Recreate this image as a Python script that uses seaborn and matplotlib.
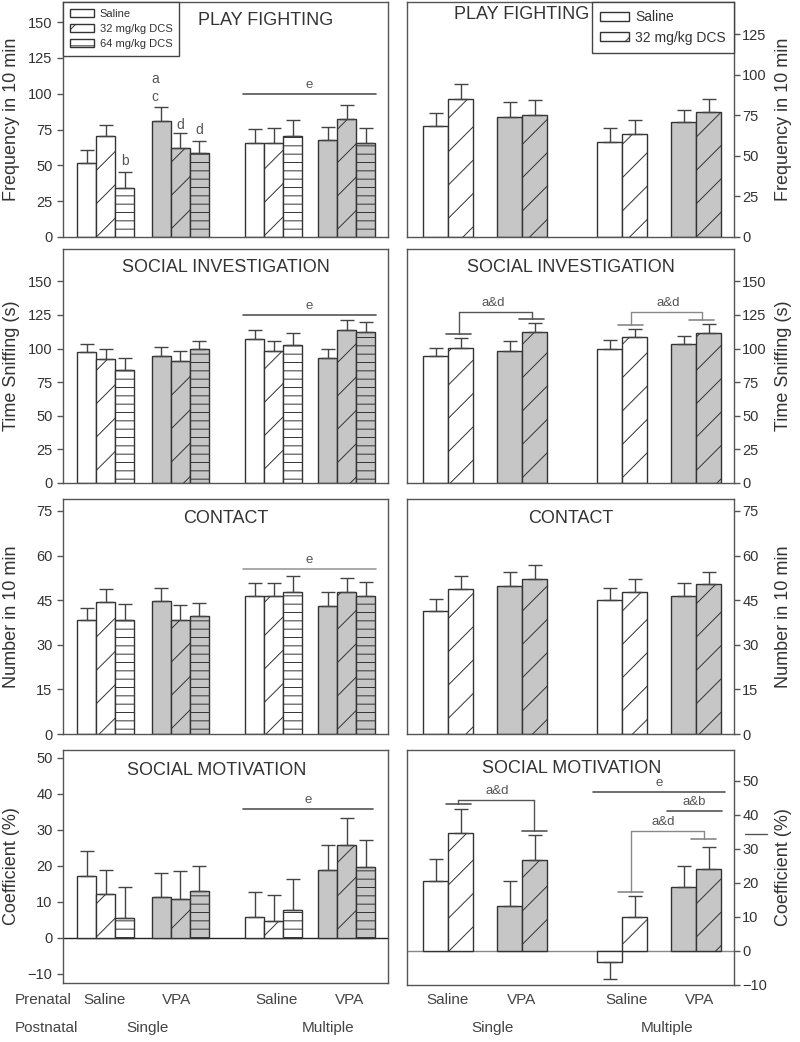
import numpy as np
import pandas as pd
import matplotlib
matplotlib.use("Agg")
import matplotlib.pyplot as plt
from matplotlib.patches import Patch
import seaborn as sns

# ---- data: mean and SEM ----
# left column: 3 doses per group, right column: 2 doses per group
# group order: Saline/Single, VPA/Single, Saline/Multiple, VPA/Multiple
left_doses = ["Saline", "32 mg/kg DCS", "64 mg/kg DCS"]
right_doses = ["Saline", "32 mg/kg DCS"]
prenatal = ["Saline", "VPA", "Saline", "VPA"]
postnatal = ["Single", "Multiple"]

play_left = [51.5, 70.3, 34.4, 81.1, 62.0, 58.5, 65.6, 65.6, 70.8, 67.5, 82.3, 65.8]
play_left_err = [9.1, 8.2, 11.3, 9.5, 10.6, 8.5, 9.6, 10.6, 11.2, 9.4, 9.9, 10.4]
play_right = [68.3, 85.4, 74.1, 75.1, 58.5, 63.4, 70.8, 77.2]
play_right_err = [8.3, 9.2, 9.4, 9.3, 8.8, 8.6, 7.4, 8.2]

sniff_left = [97.3, 92.3, 83.9, 94.6, 90.8, 99.3, 107.2, 98.5, 102.7, 92.6, 114.1, 112.6]
sniff_left_err = [6.4, 7.5, 8.9, 6.9, 7.7, 6.4, 6.2, 7.4, 8.7, 7.2, 7.2, 7.0]
sniff_right = [94.2, 100.7, 98.4, 112.3, 99.9, 108.3, 103.4, 111.8]
sniff_right_err = [6.2, 6.9, 7.2, 6.9, 6.4, 6.4, 5.9, 6.1]

contact_left = [38.2, 44.3, 38.2, 44.6, 38.4, 39.7, 46.5, 46.3, 47.7, 43.1, 47.7, 46.5]
contact_left_err = [4.1, 4.4, 5.5, 4.4, 4.9, 4.2, 4.2, 4.4, 5.3, 4.8, 4.7, 4.7]
contact_right = [41.4, 48.6, 49.6, 52.0, 44.9, 47.7, 46.4, 50.3]
contact_right_err = [4.1, 4.6, 4.7, 4.8, 4.3, 4.4, 4.2, 4.0]

motiv_left = [17.3, 12.3, 5.6, 11.3, 10.8, 13.1, 5.8, 4.6, 7.9, 18.8, 25.8, 19.7]
motiv_left_err = [6.9, 6.7, 8.6, 6.8, 7.7, 6.9, 6.9, 7.3, 8.4, 7.0, 7.6, 7.6]
motiv_right = [20.4, 34.7, 13.2, 26.7, -3.2, 9.9, 18.8, 24.1]
motiv_right_err = [6.6, 7.1, 7.2, 7.2, 4.9, 6.3, 6.2, 6.4]

# ---- layout ----
W, H = 800, 1042
EDGE = "#333333"
GREY = "#c6c6c6"
TXT = "#333333"
LEFT_STARTS = [0.74, 4.68, 9.58, 13.42]     # bar units (1 bar = 1 unit)
RIGHT_STARTS = [0.64, 3.60, 7.60, 10.56]
LEFT_XLIM = (0, 17.1)
RIGHT_XLIM = (0, 13.08)

sns.set_style("ticks")
plt.rcParams["font.family"] = ["Liberation Sans", "DejaVu Sans"]
plt.rcParams["hatch.linewidth"] = 0.7
plt.rcParams["text.color"] = TXT


def box(x0, x1, top, bottom):
    return [x0 / W, 1 - bottom / H, (x1 - x0) / W, (bottom - top) / H]


def bar_positions(starts, n):
    return [s + i + 0.5 for s in starts for i in range(n)]


def draw_panel(ax, vals, errs, starts, n, side):
    pos = bar_positions(starts, n)
    df = pd.DataFrame({"pos": pos, "val": vals})
    sns.barplot(data=df, x="pos", y="val", native_scale=True, width=1,
                color="white", saturation=1, errorbar=None, orient="x",
                linewidth=1, edgecolor=EDGE, ax=ax)
    hatches = ["", "/", "--"]
    pos_arr = np.array(pos)
    for p in ax.patches:
        cx = p.get_x() + p.get_width() / 2
        k = int(np.argmin(np.abs(pos_arr - cx)))
        grp, dose = k // n, k % n
        p.set_facecolor(GREY if grp in (1, 3) else "white")
        p.set_hatch(hatches[dose])
        p.set_edgecolor(EDGE)
        p.set_linewidth(1)
    vals = np.array(vals)
    errs = np.array(errs)
    upper = np.where(vals >= 0, errs, 0)
    lower = np.where(vals < 0, errs, 0)
    ax.errorbar(pos, vals, yerr=[lower, upper], fmt="none", ecolor="#444444",
                elinewidth=1, capsize=5, capthick=1, zorder=3)
    ax.set_xticks([])
    ax.set_xlabel("")
    for s in ax.spines.values():
        s.set_visible(True)
        s.set_color("#555555")
        s.set_linewidth(1)
    ax.tick_params(axis="y", colors="#555555", labelcolor=TXT, labelsize=10.5,
                   length=4, width=1, direction="out")
    if side == "right":
        ax.yaxis.tick_right()
        ax.yaxis.set_label_position("right")
        ax.tick_params(axis="y", pad=2)
        ax.yaxis.set_label_coords(1.125, 0.5)
    else:
        ax.yaxis.set_label_coords(-0.132, 0.5)
    return pos


def title(ax, text, x, y):
    ax.text(x, y, text, transform=ax.transAxes, ha="center", va="center",
            fontsize=13, color=TXT)


def e_line(ax, y, x0, x1, label="e", color="#555555"):
    ax.plot([x0, x1], [y, y], color=color, lw=1.2, clip_on=False)
    ax.text((x0 + x1) / 2, y + (ax.get_ylim()[1] - ax.get_ylim()[0]) * 0.012, label,
            ha="center", va="bottom", fontsize=9.5, color="#555555")


def bracket(ax, x1, y1, x2, y2, ytop, label, lx, color="#555555"):
    for x, y in ((x1, y1), (x2, y2)):
        ax.plot([x - 0.5, x + 0.5], [y, y], color=color, lw=1.2)
        ax.plot([x, x], [y, ytop], color=color, lw=1)
    ax.plot([x1, x2], [ytop, ytop], color=color, lw=1)
    ax.text(lx, ytop + (ax.get_ylim()[1] - ax.get_ylim()[0]) * 0.012, label,
            ha="center", va="bottom", fontsize=9.5, color="#555555")


fig = plt.figure(figsize=(W / 100, H / 100), dpi=100)

rows_left = [(2, 237), (249, 483), (499, 734), (750, 983)]
rows_right = [(2, 237), (249, 483), (499, 734), (750, 985)]
ylabels = ["Frequency in 10 min", "Time Sniffing (s)", "Number in 10 min",
           "Coefficient (%)"]

# ---------- row 1: play fighting ----------
axL = fig.add_axes(box(63, 388, *rows_left[0]))
posL = draw_panel(axL, play_left, play_left_err, LEFT_STARTS, 3, "left")
axL.set_xlim(*LEFT_XLIM)
axL.set_ylim(0, 164)
axL.set_yticks(range(0, 151, 25))
axL.set_ylabel(ylabels[0], fontsize=13, color=TXT)
title(axL, "PLAY FIGHTING", 0.625, 0.923)
e_line(axL, 100, 9.47, 16.47)
topL = np.array(play_left) + np.array(play_left_err)
axL.text(posL[3] - 0.35, topL[3] + 19.5, "a", ha="center", va="center", fontsize=10, color="#555555")
axL.text(posL[3] - 0.35, topL[3] + 7, "c", ha="center", va="center", fontsize=10, color="#555555")
axL.text(posL[4], topL[4] + 5.5, "d", ha="center", va="center", fontsize=10, color="#555555")
axL.text(posL[5], topL[5] + 7.5, "d", ha="center", va="center", fontsize=10, color="#555555")
axL.text(posL[2], topL[2] + 7, "b", ha="center", va="center", fontsize=10, color="#555555")
axL.legend(handles=[Patch(facecolor="white", edgecolor=EDGE, hatch=h, label=l)
                    for h, l in zip(["", "/", "--"], left_doses)],
           loc="upper left", bbox_to_anchor=(0, 1), borderaxespad=0,
           fancybox=False, edgecolor="#444444", framealpha=1, fontsize=8,
           handlelength=2.2, handleheight=0.8, labelspacing=0.45,
           borderpad=0.6, handletextpad=0.5)

axR = fig.add_axes(box(407, 734, *rows_right[0]))
posR = draw_panel(axR, play_right, play_right_err, RIGHT_STARTS, 2, "right")
axR.set_xlim(*RIGHT_XLIM)
axR.set_ylim(0, 145)
axR.set_yticks(range(0, 126, 25))
axR.set_ylabel(ylabels[0], fontsize=13, color=TXT)
title(axR, "PLAY FIGHTING", 0.352, 0.945)
axR.legend(handles=[Patch(facecolor="white", edgecolor=EDGE, hatch=h, label=l)
                    for h, l in zip(["", "/"], right_doses)],
           loc="upper right", bbox_to_anchor=(1, 1), borderaxespad=0,
           fancybox=False, edgecolor="#444444", framealpha=1, fontsize=10,
           handlelength=2.1, handleheight=0.6, labelspacing=0.45,
           borderpad=0.6, handletextpad=0.4)

# ---------- row 2: social investigation ----------
axL = fig.add_axes(box(63, 388, *rows_left[1]))
draw_panel(axL, sniff_left, sniff_left_err, LEFT_STARTS, 3, "left")
axL.set_xlim(*LEFT_XLIM)
axL.set_ylim(0, 174)
axL.set_yticks(range(0, 151, 25))
axL.set_ylabel(ylabels[1], fontsize=13, color=TXT)
title(axL, "SOCIAL INVESTIGATION", 0.5, 0.919)
e_line(axL, 125, 9.47, 16.47)

axR = fig.add_axes(box(407, 734, *rows_right[1]))
posR = draw_panel(axR, sniff_right, sniff_right_err, RIGHT_STARTS, 2, "right")
axR.set_xlim(*RIGHT_XLIM)
axR.set_ylim(0, 174)
axR.set_yticks(range(0, 151, 25))
axR.set_ylabel(ylabels[1], fontsize=13, color=TXT)
title(axR, "SOCIAL INVESTIGATION", 0.5, 0.919)
topR = np.array(sniff_right) + np.array(sniff_right_err)
bracket(axR, posR[1] - 0.07, topR[1] + 3, posR[3] - 0.11, topR[3] + 3, 127, "a&d", 3.44)
bracket(axR, posR[5] - 0.15, topR[5] + 2.5, posR[7] - 0.27, topR[7] + 3.5, 127, "a&d", 10.44,
        color="#888888")

# ---------- row 3: contact ----------
axL = fig.add_axes(box(63, 388, *rows_left[2]))
draw_panel(axL, contact_left, contact_left_err, LEFT_STARTS, 3, "left")
axL.set_xlim(*LEFT_XLIM)
axL.set_ylim(0, 79)
axL.set_yticks(range(0, 76, 15))
axL.set_ylabel(ylabels[2], fontsize=13, color=TXT)
title(axL, "CONTACT", 0.5, 0.919)
e_line(axL, 55.6, 9.47, 16.47, color="#999999")

axR = fig.add_axes(box(407, 734, *rows_right[2]))
draw_panel(axR, contact_right, contact_right_err, RIGHT_STARTS, 2, "right")
axR.set_xlim(*RIGHT_XLIM)
axR.set_ylim(0, 79)
axR.set_yticks(range(0, 76, 15))
axR.set_ylabel(ylabels[2], fontsize=13, color=TXT)
title(axR, "CONTACT", 0.5, 0.919)

# ---------- row 4: social motivation ----------
axL = fig.add_axes(box(63, 388, *rows_left[3]))
draw_panel(axL, motiv_left, motiv_left_err, LEFT_STARTS, 3, "left")
axL.set_xlim(*LEFT_XLIM)
axL.set_ylim(-12.5, 52.2)
axL.set_yticks(range(-10, 51, 10))
axL.axhline(0, color="#222222", lw=1, zorder=0.5)
axL.set_ylabel(ylabels[3], fontsize=13, color=TXT)
title(axL, "SOCIAL MOTIVATION", 0.474, 0.914)
e_line(axL, 35.8, 9.47, 16.3)

axR = fig.add_axes(box(407, 734, *rows_right[3]))
posR = draw_panel(axR, motiv_right, motiv_right_err, RIGHT_STARTS, 2, "right")
axR.set_xlim(*RIGHT_XLIM)
axR.set_ylim(-10, 59)
axR.set_yticks(range(-10, 51, 10))
axR.axhline(0, color="#888888", lw=1, zorder=0.5)
axR.set_ylabel(ylabels[3], fontsize=13, color=TXT)
title(axR, "SOCIAL MOTIVATION", 0.505, 0.923)
topR = np.array(motiv_right) + np.array(motiv_right_err)
bracket(axR, posR[1] - 0.1, topR[1] + 1.4, posR[3] - 0.02, topR[3] + 1.3, 44.3, "a&d", 3.6)
bracket(axR, posR[5] - 0.15, topR[5] + 1.1, posR[7] - 0.2, topR[7] + 2.4, 35.3, "a&d", 10.24,
        color="#888888")
e_line(axR, 46.6, 7.44, 12.72)
e_line(axR, 41.1, 10.4, 12.6, label="a&b")
axR.plot([13.52, 14.4], [34.3, 34.3], color="#555555", lw=1, clip_on=False)

# ---------- x-axis group labels ----------
left_centers = [105, 177, 277, 350]
right_centers = [448, 522, 627, 700]
for c, lab in zip(left_centers, prenatal):
    fig.text(c / W, 1 - 1000 / H, lab, ha="center", va="center", fontsize=11, color="#444444")
for c, lab in zip(right_centers, prenatal):
    fig.text(c / W, 1 - 1000 / H, lab, ha="center", va="center", fontsize=11, color="#444444")
fig.text(15 / W, 1 - 1000 / H, "Prenatal", ha="left", va="center", fontsize=11, color="#444444")
fig.text(15 / W, 1 - 1028 / H, "Postnatal", ha="left", va="center", fontsize=11, color="#444444")
for c, lab in zip([148, 328], postnatal):
    fig.text(c / W, 1 - 1028 / H, lab, ha="center", va="center", fontsize=11, color="#444444")
for c, lab in zip([493, 667], postnatal):
    fig.text(c / W, 1 - 1028 / H, lab, ha="center", va="center", fontsize=11, color="#444444")

fig.savefig("out.png", dpi=100)
